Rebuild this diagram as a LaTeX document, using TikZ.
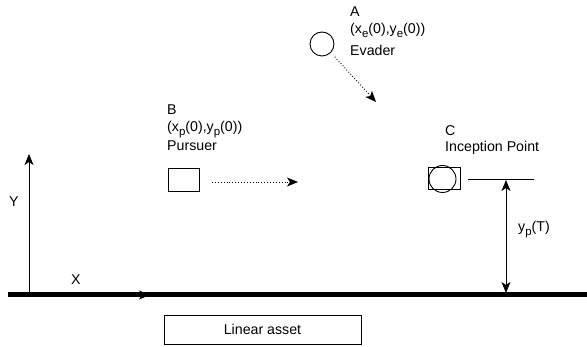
\documentclass[tikz,border=0pt]{standalone}
\usepackage{fontspec}
\setmainfont{Liberation Sans}
\usetikzlibrary{arrows.meta}
\newcommand\mysb[1]{\raisebox{-3.8pt}{\fontsize{11.5}{12}\selectfont #1}}
\tikzset{
  lbl/.style={anchor=base west, inner sep=0pt, font=\fontsize{14.2}{16}\selectfont},
  thin line/.style={line width=0.9pt},
  tip/.style={-{Stealth[length=11pt,width=9pt,inset=3pt]}},
  dotarrow/.style={thin line, dotted, -{Stealth[length=11pt,width=9pt,inset=3pt]}},
}
\begin{document}
\begin{tikzpicture}[x=1pt,y=-1pt]
\useasboundingbox (0,0) rectangle (587,347);
% ground line
\coordinate (g0) at (8,295);
\coordinate (g1) at (587,295);
\draw[line width=5pt] (g0) -- (g1);
% axes
\coordinate (o) at (29,295);
\coordinate (yend) at (29,154);
\coordinate (xend) at (150,295);
\draw[thin line, tip] (o) -- (yend);
\draw[thin line, tip] (o) -- (xend);
\node[lbl] (ylab) at (9,207) {Y};
\node[lbl] (xlab) at (71,285) {X};
% Evader
\node[draw, circle, thin line, minimum size=24pt, inner sep=0pt] (ev) at (322,44) {};
\node[lbl] (atxt) at (350,17) {A};
\node[lbl] (aco) at (350,34) {(x\mysb{e}(0),y\mysb{e}(0))};
\node[lbl] (aname) at (350,56) {Evader};
\coordinate (evend) at (376,102);
\draw[dotarrow] (ev.south east) ++(4,4) coordinate (evs) -- (evend);
% Pursuer
\node[draw, rectangle, thin line, minimum width=31pt, minimum height=23pt, inner sep=0pt] (pu) at (183.5,179.5) {};
\node[lbl] (btxt) at (167,115) {B};
\node[lbl] (bco) at (167,132) {(x\mysb{p}(0),y\mysb{p}(0))};
\node[lbl] (bname) at (167,151) {Pursuer};
\coordinate (puend) at (298,182);
\draw[dotarrow] (212,182) coordinate (pus) -- (puend);
% Inception point
\node[draw, rectangle, thin line, minimum width=32pt, minimum height=22pt, inner sep=0pt] (ipr) at (444,178) {};
\node[draw, circle, thin line, minimum size=27pt, inner sep=0pt] (ipc) at (442.5,179) {};
\node[lbl] (ctxt) at (445,136) {C};
\node[lbl] (cname) at (445,152) {Inception Point};
\coordinate (h0) at (468,179);
\coordinate (h1) at (534,179);
\draw[thin line] (h0) -- (h1);
\coordinate (v0) at (506,180);
\coordinate (v1) at (506,293);
\draw[thin line, {Stealth[length=11pt,width=9pt,inset=3pt]}-{Stealth[length=11pt,width=9pt,inset=3pt]}] (v0) -- (v1);
\node[lbl] (ypt) at (518,232) {y\mysb{p}(T)};
% Linear asset
\node[draw, rectangle, thin line, minimum width=197pt, minimum height=29pt, inner sep=0pt, font=\fontsize{14.2}{16}\selectfont] (asset) at (262.5,329.5) {Linear asset};
\end{tikzpicture}
\end{document}
